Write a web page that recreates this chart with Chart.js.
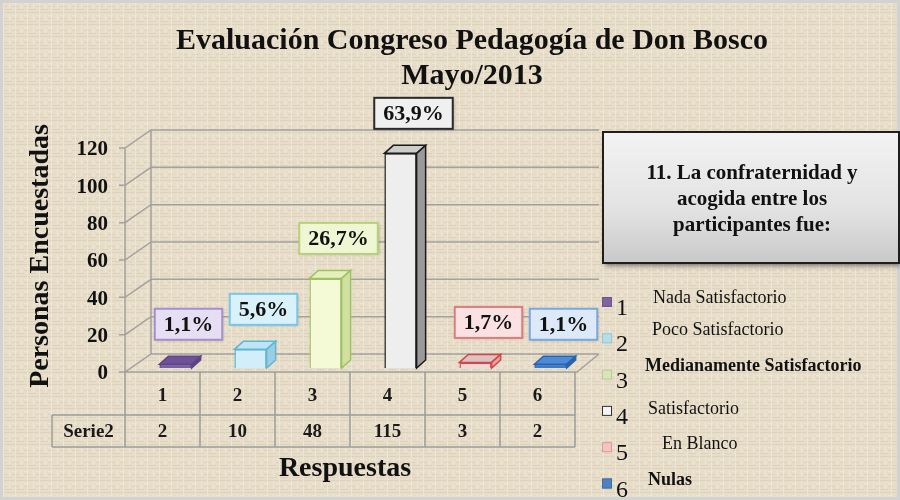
<!DOCTYPE html>
<html>
<head>
<meta charset="utf-8">
<title>Evaluación Congreso Pedagogía de Don Bosco</title>
<script src="https://cdn.jsdelivr.net/npm/chart.js@4.4.1/dist/chart.umd.min.js"></script>
<style>
  html, body { margin: 0; padding: 0; background: #e5dbc7; }
  #wrap { width: 900px; height: 500px; }
</style>
</head>
<body>
<div id="wrap"><canvas id="chart" width="900" height="500"></canvas></div>
<script>
// data
const categories = ["1", "2", "3", "4", "5", "6"];
const seriesName = "Serie2";
const values = [2, 10, 48, 115, 3, 2];
const yTicks = [0, 20, 40, 60, 80, 100, 120];
const legendLabels = ["Nada Satisfactorio", "Poco Satisfactorio", "Medianamente Satisfactorio",
                      "Satisfactorio", "En Blanco", "Nulas"];
const titleLines = ["Evaluación Congreso Pedagogía de Don Bosco", "Mayo/2013"];
const questionLines = ["11. La confraternidad y", "acogida entre los", "participantes fue:"];
const xTitle = "Respuestas";
const yTitle = "Personas Encuestadas";

// styles
const SERIF = '"Liberation Serif", "Times New Roman", serif';
const frontColors = ['#7b5fa6', '#d2eefa', '#f4f9d6', '#eeeeee', '#f7d6d6', '#3b7bcc'];
const borderColors = ['#5e4688', '#5fb6d8', '#9fc163', '#1a1a1a', '#d04848', '#2a64ae'];
const topColors = ['#6d5298', '#bfe5f4', '#e6f0bc', '#cdcdcd', '#dcc2c2', '#4f8ad6'];
const sideColors = ['#5a3f84', '#9ccde0', '#cfe0a0', '#9a9a9a', '#e2a4a4', '#2c62a8'];
const boxFill = ['#e6def2', '#d8f1fb', '#eff6d4', '#f0f0f0', '#fbe1e1', '#dde9f8'];
const boxStroke = ['#a48fcc', '#79c6e6', '#b5d27a', '#2a2a2a', '#e07b7b', '#79a7de'];
const legendSq = ['#8064a2', '#b7dee8', '#d7e4bd', '#f4f4f4', '#f2c4c4', '#4f81bd'];
const legendSqBorder = ['#6d5590', '#8fc9da', '#b5cf8d', '#333333', '#e09a9a', '#3e6ea8'];
const legendBold = [false, false, true, false, false, true];
const legendTextX = [653, 652, 645, 648, 662, 648];
const legendTextDy = [-4, -8, -8, -2, -3, -3];

const total = values.reduce((a, b) => a + b, 0);
const SHIFT = 13;      // bars sit to the right of the table columns (perspective)
const DX = 9, DY = -8; // bar depth

function makeTexture() {
  // small woven tile, low contrast
  const c = document.createElement('canvas');
  c.width = 12; c.height = 12;
  const g = c.getContext('2d');
  g.fillStyle = '#e7ddc9';
  g.fillRect(0, 0, 12, 12);
  g.fillStyle = '#ddd2bb';
  g.fillRect(0, 0, 12, 1);
  g.fillRect(0, 6, 7, 1);
  g.fillRect(4, 9, 8, 1);
  g.fillStyle = '#ede6d6';
  g.fillRect(3, 0, 1, 12);
  g.fillRect(9, 2, 1, 7);
  g.fillRect(0, 3, 5, 1);
  return c;
}

const backgroundPlugin = {
  id: 'bg',
  beforeDraw(chart) {
    const ctx = chart.ctx;
    ctx.save();
    ctx.fillStyle = ctx.createPattern(makeTexture(), 'repeat');
    ctx.fillRect(0, 0, chart.width, chart.height);
    ctx.strokeStyle = '#d2d2d2';
    ctx.lineWidth = 3;
    ctx.strokeRect(1.5, 1.5, chart.width - 3, chart.height - 3);
    // titles
    ctx.fillStyle = '#111';
    ctx.textAlign = 'center';
    ctx.textBaseline = 'middle';
    ctx.font = 'bold 30px ' + SERIF;
    ctx.fillText(titleLines[0], 472, 41);
    ctx.fillText(titleLines[1], 472, 76);
    ctx.restore();
  }
};

const gridPlugin = {
  id: 'grid3d',
  beforeDatasetsDraw(chart) {
    const ctx = chart.ctx, y = chart.scales.y, x = chart.scales.x;
    const fx = x.left - SHIFT, bx = fx + 26;
    const fxr = x.right - SHIFT + 2, bxr = fxr + 22;
    const off = 4, back = -14;
    ctx.save();
    ctx.strokeStyle = 'rgba(150,150,150,0.85)';
    ctx.lineWidth = 1.5;
    ctx.beginPath();
    yTicks.forEach(v => {
      const p = y.getPixelForValue(v);
      ctx.moveTo(fx - 6, p + off);
      ctx.lineTo(fx, p + off);
      ctx.lineTo(bx, p + back);
      ctx.lineTo(bxr, p + back);
    });
    const p0 = y.getPixelForValue(0), pm = y.getPixelForValue(120);
    ctx.moveTo(fx, p0 + off); ctx.lineTo(fx, pm + off);
    ctx.moveTo(bx, p0 + back); ctx.lineTo(bx, pm + back);
    ctx.moveTo(fx, p0 + off); ctx.lineTo(fxr, p0 + off); ctx.lineTo(bxr, p0 + back);
    ctx.stroke();
    ctx.restore();
  }
};

const barsPlugin = {
  id: 'bars3d',
  afterDatasetsDraw(chart) {
    const ctx = chart.ctx;
    const meta = chart.getDatasetMeta(0);
    ctx.save();
    meta.data.forEach((bar, i) => {
      const { x, y, base, width } = bar.getProps(['x', 'y', 'base', 'width'], true);
      const l = x - width / 2, r = x + width / 2;
      ctx.lineWidth = 1.5;
      ctx.strokeStyle = borderColors[i];
      // top face
      ctx.beginPath();
      ctx.moveTo(l, y); ctx.lineTo(l + DX, y + DY); ctx.lineTo(r + DX, y + DY); ctx.lineTo(r, y);
      ctx.closePath();
      ctx.fillStyle = topColors[i]; ctx.fill(); ctx.stroke();
      // side face
      ctx.beginPath();
      ctx.moveTo(r, y); ctx.lineTo(r + DX, y + DY); ctx.lineTo(r + DX, base + DY); ctx.lineTo(r, base);
      ctx.closePath();
      ctx.fillStyle = sideColors[i]; ctx.fill(); ctx.stroke();
    });
    // percentage boxes
    ctx.font = 'bold 22px ' + SERIF;
    ctx.textAlign = 'center';
    ctx.textBaseline = 'middle';
    meta.data.forEach((bar, i) => {
      const txt = (values[i] / total * 100).toFixed(1).replace('.', ',') + '%';
      const cx = bar.x + SHIFT, cy = bar.y - 40;
      const w = ctx.measureText(txt).width + 18, h = 31;
      ctx.shadowColor = 'rgba(0,0,0,0.25)';
      ctx.shadowBlur = 3; ctx.shadowOffsetX = 1; ctx.shadowOffsetY = 1;
      ctx.fillStyle = boxFill[i];
      ctx.fillRect(cx - w / 2, cy - h / 2, w, h);
      ctx.shadowColor = 'transparent';
      ctx.lineWidth = 2;
      ctx.strokeStyle = boxStroke[i];
      ctx.strokeRect(cx - w / 2, cy - h / 2, w, h);
      ctx.fillStyle = '#111';
      ctx.fillText(txt, cx, cy + 1);
    });
    ctx.restore();
  }
};

const tablePlugin = {
  id: 'table',
  afterDraw(chart) {
    const ctx = chart.ctx, x = chart.scales.x, y = chart.scales.y;
    const colW = x.getPixelForValue(1) - x.getPixelForValue(0);
    const top = y.getPixelForValue(0) + 4;
    const mid = chart.chartArea.bottom + 47, bot = chart.chartArea.bottom + 79;
    const left = x.getPixelForValue(0) - colW / 2 - SHIFT;
    const right = x.getPixelForValue(categories.length - 1) + colW / 2 - SHIFT;
    const labelLeft = 52;
    ctx.save();
    ctx.strokeStyle = 'rgba(150,150,150,0.9)';
    ctx.lineWidth = 1.5;
    ctx.beginPath();
    for (let i = 0; i <= categories.length; i++) {
      const bx = left + i * colW;
      ctx.moveTo(bx, top); ctx.lineTo(bx, bot);
    }
    ctx.moveTo(labelLeft, mid); ctx.lineTo(right, mid);
    ctx.moveTo(labelLeft, bot); ctx.lineTo(right, bot);
    ctx.moveTo(labelLeft, mid); ctx.lineTo(labelLeft, bot);
    ctx.stroke();
    ctx.fillStyle = '#1a1a1a';
    ctx.textAlign = 'center';
    ctx.textBaseline = 'middle';
    ctx.font = 'bold 19px ' + SERIF;
    categories.forEach((c, i) => {
      const cx = x.getPixelForValue(i) - SHIFT;
      ctx.fillText(c, cx, (top + mid) / 2 + 3);
      ctx.fillText(String(values[i]), cx, (mid + bot) / 2 + 1);
    });
    ctx.fillText(seriesName, (labelLeft + left) / 2, (mid + bot) / 2 + 1);
    ctx.font = 'bold 28px ' + SERIF;
    ctx.fillStyle = '#111';
    ctx.fillText(xTitle, (left + right) / 2 - 5, 469);

    // question box
    const qx = 603, qy = 132, qw = 296, qh = 131;
    const grad = ctx.createLinearGradient(0, qy, 0, qy + qh);
    grad.addColorStop(0, '#f3f3f3');
    grad.addColorStop(0.6, '#e2e2e2');
    grad.addColorStop(1, '#c9c9c9');
    ctx.shadowColor = 'rgba(0,0,0,0.45)';
    ctx.shadowBlur = 5; ctx.shadowOffsetX = 2; ctx.shadowOffsetY = 3;
    ctx.fillStyle = grad;
    ctx.fillRect(qx, qy, qw, qh);
    ctx.shadowColor = 'transparent';
    ctx.strokeStyle = '#1e1e1e';
    ctx.lineWidth = 2;
    ctx.strokeRect(qx, qy, qw, qh);
    ctx.fillStyle = '#111';
    ctx.font = 'bold 21px ' + SERIF;
    questionLines.forEach((t, i) => ctx.fillText(t, 752, 174 + i * 26));

    // legend
    legendLabels.forEach((lab, i) => {
      const sy = 297 + i * 36.3;
      ctx.fillStyle = legendSq[i];
      ctx.fillRect(602, sy, 10, 10);
      ctx.strokeStyle = legendSqBorder[i];
      ctx.lineWidth = 1;
      ctx.strokeRect(602.5, sy + 0.5, 9, 9);
      ctx.fillStyle = '#111';
      ctx.textAlign = 'center';
      ctx.textBaseline = 'alphabetic';
      ctx.font = '24px ' + SERIF;
      ctx.fillText(String(i + 1), 622, sy + 18);
      ctx.textAlign = 'left';
      ctx.textBaseline = 'middle';
      ctx.font = (legendBold[i] ? 'bold ' : '') + '18px ' + SERIF;
      ctx.fillText(lab, legendTextX[i], sy + 5 + legendTextDy[i]);
    });
    ctx.restore();
  }
};

new Chart(document.getElementById('chart'), {
  type: 'bar',
  data: {
    labels: categories,
    datasets: [{
      label: seriesName,
      data: values,
      backgroundColor: frontColors,
      borderColor: borderColors,
      borderWidth: 1.5,
      barPercentage: 0.43,
      categoryPercentage: 1
    }]
  },
  options: {
    responsive: false,
    animation: false,
    layout: { padding: { left: 10, top: 144, right: 312, bottom: 132 } },
    plugins: { legend: { display: false }, title: { display: false }, tooltip: { enabled: false } },
    scales: {
      x: { display: false },
      y: {
        min: 0,
        max: 120,
        afterBuildTicks: scale => { scale.ticks = yTicks.map(v => ({ value: v })); },
        afterFit: scale => { scale.width = 128; },
        grid: { display: false, drawTicks: false },
        border: { display: false },
        ticks: { font: { family: SERIF, size: 21, weight: 'bold' }, color: '#111', padding: 30, labelOffset: 6 },
        title: {
          display: true,
          text: yTitle,
          color: '#111',
          font: { family: SERIF, size: 28, weight: 'bold' },
          padding: { top: 14, bottom: 0 }
        }
      }
    }
  },
  plugins: [backgroundPlugin, gridPlugin, barsPlugin, tablePlugin]
});
</script>
</body>
</html>
